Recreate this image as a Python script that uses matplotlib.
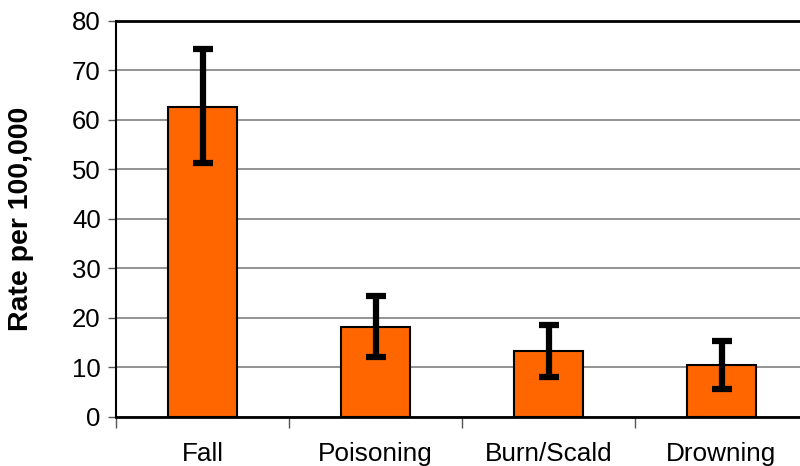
import matplotlib.pyplot as plt
import numpy as np

plt.rcParams['font.family'] = ['Liberation Sans', 'DejaVu Sans']

# donnees
categories = ["Fall", "Poisoning", "Burn/Scald", "Drowning"]
rates = [62.6, 18.1, 13.3, 10.4]
ci_low = [51.3, 12.1, 8.0, 5.6]
ci_high = [74.3, 24.3, 18.5, 15.3]

x = np.arange(len(categories))
err = [np.array(rates) - np.array(ci_low), np.array(ci_high) - np.array(rates)]

fig = plt.figure(figsize=(8, 4.66), dpi=100)
ax = fig.add_axes([0.145, 0.106, 0.865, 0.849])

ax.bar(x, rates, width=0.4, color="#FF6600", edgecolor="black", linewidth=1.5, zorder=3)
eb = ax.errorbar(x, rates, yerr=err, fmt="none", ecolor="black", elinewidth=4.5,
                 capsize=7, capthick=4.5, zorder=4)
for c in eb[1]:
    c.set_solid_capstyle("round")

ax.set_xlim(-0.5, len(categories) - 0.5)
ax.set_ylim(0, 80)
ax.set_yticks(range(0, 81, 10))
ax.yaxis.grid(True, color="#808080", linewidth=1.2, zorder=0)
ax.set_axisbelow(True)

# ticks entre categories, labels au centre
ax.set_xticks(x)
ax.set_xticklabels(categories, fontsize=18.8)
ax.tick_params(axis="x", which="major", length=0, pad=18)
ax.set_xticks(np.arange(-0.5, len(categories), 1.0), minor=True)
ax.tick_params(axis="x", which="minor", length=8, width=1, color="#555555")
ax.tick_params(axis="y", labelsize=18.5, length=6, width=1, color="#555555", pad=5)

ax.set_ylabel("Rate per 100,000", fontsize=20.5, fontweight="bold", labelpad=27)

for s in ["top", "bottom"]:
    ax.spines[s].set_linewidth(2)
ax.spines["left"].set_linewidth(1.5)
ax.spines["right"].set_visible(False)

fig.savefig("out.png", dpi=100)
